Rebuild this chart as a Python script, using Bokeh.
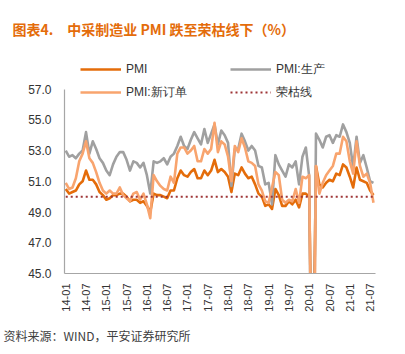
import math
from bokeh.plotting import figure
from bokeh.models import (ColumnDataSource, FixedTicker, PrintfTickFormatter, Range1d,
                          Legend, LegendItem, Title)
from bokeh.embed import file_html
from bokeh.resources import INLINE

# ---- data (NBS manufacturing PMI, 2014-01 .. 2021-08) ----
pmi = [50.5, 50.2, 50.3, 50.4, 50.8, 51.0, 51.7, 51.1, 51.1, 50.8, 50.3, 50.1,
       49.8, 49.9, 50.1, 50.1, 50.2, 50.2, 50.0, 49.7, 49.8, 49.8, 49.6, 49.7,
       49.4, 49.0, 50.2, 50.1, 50.1, 50.0, 49.9, 50.4, 50.4, 51.2, 51.7, 51.4,
       51.3, 51.6, 51.8, 51.2, 51.2, 51.7, 51.4, 51.7, 52.4, 51.6, 51.8, 51.6,
       51.3, 50.3, 51.5, 51.4, 51.9, 51.5, 51.2, 51.3, 50.8, 50.2, 50.0, 49.4,
       49.5, 49.2, 50.5, 50.1, 49.4, 49.4, 49.7, 49.5, 49.8, 49.3, 50.2, 50.2,
       50.0, 35.7, 52.0, 50.8, 50.6, 50.9, 51.1, 51.0, 51.5, 51.4, 52.1, 51.9,
       51.3, 50.6, 51.9, 51.1, 51.0, 50.9, 50.4, 50.1]
production = [53.0, 52.6, 52.7, 52.5, 52.8, 53.0, 54.2, 52.8, 53.6, 53.1, 52.5, 52.2,
              51.7, 51.4, 52.1, 52.6, 52.9, 52.9, 52.4, 51.7, 52.3, 52.2, 51.9, 52.2,
              51.4, 50.2, 52.3, 52.2, 52.3, 52.5, 52.1, 52.6, 52.8, 53.3, 53.9, 53.3,
              53.1, 53.7, 54.2, 53.8, 53.4, 54.4, 53.5, 54.1, 54.7, 53.4, 54.3, 54.0,
              53.5, 50.7, 53.1, 53.1, 54.1, 53.6, 53.0, 53.3, 53.0, 52.0, 51.9, 50.8,
              50.9, 49.5, 52.7, 52.1, 51.7, 51.3, 52.1, 51.9, 52.3, 50.8, 52.6, 53.2,
              51.3, 27.8, 54.1, 53.7, 53.2, 53.9, 54.0, 53.5, 54.0, 53.9, 54.7, 54.2,
              53.5, 51.9, 53.9, 52.2, 52.7, 51.9, 51.0, 50.9]
new_orders = [50.9, 50.5, 50.6, 51.2, 52.3, 52.8, 53.6, 52.5, 52.2, 51.6, 50.9, 50.4,
              50.2, 50.4, 50.2, 50.2, 50.6, 50.1, 49.9, 49.7, 50.2, 50.3, 49.8, 50.2,
              49.5, 48.6, 51.4, 51.0, 50.7, 50.5, 50.4, 51.3, 50.9, 52.8, 53.2, 53.2,
              52.8, 53.0, 53.3, 52.3, 52.3, 53.1, 52.8, 53.1, 54.8, 52.9, 53.6, 53.4,
              52.6, 51.0, 53.3, 52.9, 53.8, 53.2, 52.3, 52.2, 52.0, 50.8, 50.4, 49.7,
              49.6, 50.6, 51.6, 51.4, 49.8, 49.6, 49.8, 49.7, 50.5, 49.6, 51.3, 51.2,
              51.4, 29.3, 52.0, 50.2, 50.9, 51.4, 51.7, 52.0, 52.8, 52.8, 53.9, 53.6,
              52.3, 51.5, 53.6, 52.0, 51.3, 51.5, 50.9, 49.6]
threshold = 50.0
tick_labels = ["14-01", "14-07", "15-01", "15-07", "16-01", "16-07", "17-01", "17-07",
               "18-01", "18-07", "19-01", "19-07", "20-01", "20-07", "21-01", "21-07"]
y_ticks = [45.0, 47.0, 49.0, 51.0, 53.0, 55.0, 57.0]
y_min, y_max = 45.0, 57.0

x = list(range(len(pmi)))
src = ColumnDataSource(dict(x=x, pmi=pmi, prod=production, no=new_orders))

C_PMI = "#E46C0A"
C_PROD = "#A0A0A0"
C_NO = "#F8A46E"
C_TH = "#9E3436"
FONT = "Liberation Sans"

W, H = 405, 354
B_TOP, B_BOT = 50, 81
frame_h = H - B_TOP - B_BOT
px_per_unit = 184.4 / (y_max - y_min)          # axis 45..57 spans ~184 px
y_top = y_min + frame_h / px_per_unit          # extra headroom for the legend

p = figure(width=W, height=H, output_backend="svg", toolbar_location=None,
           x_range=Range1d(-0.36, 91.6), y_range=Range1d(y_min, y_top),
           min_border_left=64, min_border_right=30, min_border_top=B_TOP,
           min_border_bottom=B_BOT)
p.outline_line_color = None
p.grid.visible = False

r_pmi = p.line("x", "pmi", source=src, color=C_PMI, line_width=2.6, line_join="round")
r_prod = p.line("x", "prod", source=src, color=C_PROD, line_width=2.6, line_join="round")
r_no = p.line("x", "no", source=src, color=C_NO, line_width=2.6, line_join="round")
r_th = p.line([x[0], x[-1]], [threshold, threshold], color=C_TH, line_width=2, line_dash="2 3")

# axes
tick_pos = [i * 6 for i in range(len(tick_labels))]
p.xaxis.ticker = FixedTicker(ticks=tick_pos)
p.xaxis.major_label_overrides = {tp: lab for tp, lab in zip(tick_pos, tick_labels)}
p.xaxis.major_label_orientation = math.pi / 2
p.yaxis.ticker = FixedTicker(ticks=y_ticks)
p.yaxis.formatter = PrintfTickFormatter(format="%.1f")
p.yaxis.bounds = (y_min, y_max)
for ax in (p.xaxis, p.yaxis):
    ax.axis_line_color = "#A6A6A6"
    ax.axis_line_width = 1.2
    ax.major_tick_line_color = None
    ax.minor_tick_line_color = None
    ax.major_tick_in = 0
    ax.major_tick_out = 0
    ax.major_label_text_font = FONT
    ax.major_label_text_color = "#333333"
p.xaxis.major_label_text_font_size = "11px"
p.yaxis.major_label_text_font_size = "12px"
p.xaxis.major_label_standoff = 10
p.yaxis.major_label_standoff = 13

# legend rows (inside the extended frame, above the data)
def make_legend(items, bottom):
    lg = Legend(items=items, orientation="horizontal", location=(16, bottom),
                padding=0, margin=0, spacing=4, border_line_color=None,
                background_fill_alpha=0, glyph_width=41, glyph_height=20,
                label_width=100, label_height=20, label_standoff=5,
                label_text_font=FONT, label_text_font_size="12px",
                label_text_color="#333333")
    p.add_layout(lg, "center")

make_legend([LegendItem(label="PMI", renderers=[r_pmi]),
             LegendItem(label="PMI:生产", renderers=[r_prod])], 194)
make_legend([LegendItem(label="PMI:新订单", renderers=[r_no]),
             LegendItem(label="荣枯线", renderers=[r_th])], 171)

title = Title(text="图表4.\u3000中采制造业 PMI 跌至荣枯线下（%）", align="left", offset=-52,
              text_font="Noto Sans CJK SC", text_font_size="14px", text_font_style="bold",
              text_color="#E46C0A", standoff=24)
p.add_layout(title, "above")
source = Title(text="资料来源：WIND，平安证券研究所", align="left", offset=-61,
               text_font="Noto Sans CJK SC", text_font_size="12px", text_font_style="normal",
               text_color="#404040", standoff=21)
if "padding" in source.properties():
    source.padding = 0
source.text_line_height = 1.0
p.add_layout(source, "below")

open("out.html", "w").write(file_html(p, INLINE))
